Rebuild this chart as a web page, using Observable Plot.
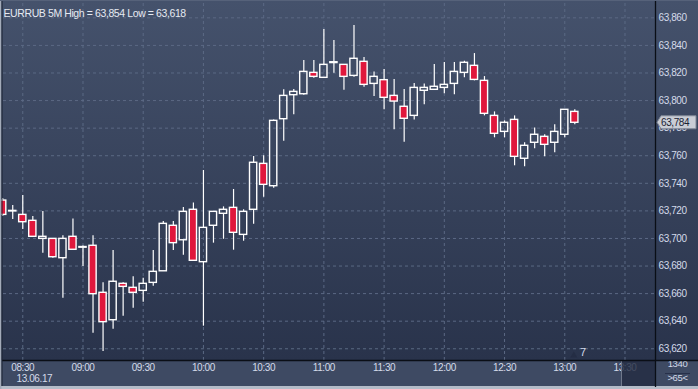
<!DOCTYPE html>
<html>
<head>
<meta charset="utf-8">
<script src="https://cdn.jsdelivr.net/npm/d3@7"></script>
<script src="https://cdn.jsdelivr.net/npm/@observablehq/plot@0.6"></script>
<style>
html, body { margin: 0; padding: 0; background: #3d4a63; }
#chart svg text { letter-spacing: -0.4px; }
</style>
</head>
<body>
<div id="chart"></div>
<script>
// ---- data (5-minute candles, EURRUB, 13.06.17) ----
const times = ["08:20","08:25","08:30","08:35","08:40","08:45","08:50","08:55",
  "09:00","09:05","09:10","09:15","09:20","09:25","09:30","09:35","09:40","09:45","09:50","09:55",
  "10:00","10:05","10:10","10:15","10:20","10:25","10:30","10:35","10:40","10:45","10:50","10:55",
  "11:00","11:05","11:10","11:15","11:20","11:25","11:30","11:35","11:40","11:45","11:50","11:55",
  "12:00","12:05","12:10","12:15","12:20","12:25","12:30","12:35","12:40","12:45","12:50","12:55",
  "13:00","13:05"];
const opens = [63.7275,63.7196,63.7171,63.7128,63.6997,63.6997,63.6857,63.7012,
  63.6933,63.6947,63.6606,63.6407,63.6671,63.6642,63.6620,63.6678,63.6762,63.7092,63.6987,63.7208,
  63.6828,63.7092,63.7179,63.7222,63.7026,63.7208,63.7541,63.7379,63.7865,63.8039,63.8046,63.8201,
  63.8165,63.8272,63.8259,63.8179,63.8281,63.8121,63.8148,63.8034,63.7955,63.7889,63.8071,63.8078,
  63.8092,63.8121,63.8201,63.8252,63.8143,63.7889,63.7773,63.7860,63.7578,63.7694,63.7737,63.7694,
  63.7752,63.7918];
const highs = [63.7290,63.7239,63.7311,63.7159,63.7195,63.6997,63.7019,63.7142,
  63.6945,63.7019,63.6678,63.6913,63.6678,63.6722,63.6712,63.6913,63.7123,63.7123,63.7224,63.7258,
  63.7493,63.7193,63.7229,63.7355,63.7208,63.7594,63.7599,63.7860,63.8078,63.8080,63.8290,63.8290,
  63.8515,63.8435,63.8259,63.8544,63.8312,63.8208,63.8225,63.8153,63.8080,63.8124,63.8121,63.8261,
  63.8276,63.8276,63.8285,63.8341,63.8174,63.7918,63.7853,63.7889,63.7694,63.7802,63.7752,63.7824,
  63.7933,63.7933];
const lows = [63.7160,63.7137,63.7065,63.7012,63.6893,63.6857,63.6567,63.6918,
  63.6796,63.6313,63.6180,63.6342,63.6436,63.6494,63.6538,63.6654,63.6762,63.6913,63.6878,63.6838,
  63.6364,63.6966,63.6994,63.6915,63.6980,63.7103,63.7299,63.7364,63.7705,63.7898,63.8039,63.8162,
  63.8165,63.8198,63.8075,63.8169,63.8097,63.8029,63.7933,63.7788,63.7698,63.7860,63.7969,63.8078,
  63.8049,63.8042,63.8165,63.8143,63.7889,63.7730,63.7730,63.7527,63.7520,63.7650,63.7592,63.7621,
  63.7730,63.7824];
const closes = [63.7171,63.7200,63.7118,63.7012,63.7012,63.6864,63.6997,63.6918,
  63.6938,63.6596,63.6393,63.6686,63.6649,63.6606,63.6671,63.6758,63.7106,63.6966,63.7193,63.6838,
  63.7077,63.7193,63.7208,63.7041,63.7193,63.7549,63.7389,63.7853,63.8034,63.8063,63.8208,63.8172,
  63.8259,63.8278,63.8172,63.8303,63.8114,63.8172,63.8020,63.7993,63.7868,63.8092,63.8092,63.8100,
  63.8114,63.8208,63.8274,63.8150,63.7904,63.7759,63.7839,63.7592,63.7672,63.7752,63.7679,63.7773,
  63.7933,63.7839];

const yTicks = [63.62,63.64,63.66,63.68,63.70,63.72,63.74,63.76,63.78,63.80,63.82,63.84,63.86];
const xTicks = ["08:30","09:00","09:30","10:00","10:30","11:00","11:30","12:00","12:30","13:00","13:30"];
const titleText = ["EURRUB 5M High = 63,854 Low = 63,618"];
const dateText = ["13.06.17"];
const cornerTop = ["1340"];
const cornerBottom = [">65<"];
const markerTime = ["13:05"];
const markerText = ["7"];

// ---- helpers ----
const toMin = s => +s.slice(0, 2) * 60 + +s.slice(3);
const pad = n => String(n).padStart(2, "0");
const fmtTime = m => pad(Math.floor(m / 60)) + ":" + pad(m % 60);
const fmtPrice = v => v.toFixed(3).replace(".", ",");

const candles = times.map((t, i) => ({
  t: toMin(t), o: opens[i], h: highs[i], l: lows[i], c: closes[i],
  top: Math.max(opens[i], closes[i]), bot: Math.min(opens[i], closes[i]),
  bull: closes[i] >= opens[i]
}));
const bulls = candles.filter(d => d.bull);
const bears = candles.filter(d => !d.bull);

const RED = "#e0173c";
const W = "#ffffff";
const TXT = "#d4dbea";
const half = 1.8;

const svg = Plot.plot({
  width: 698,
  height: 389,
  marginLeft: 3,
  marginRight: 43,
  marginTop: 3,
  marginBottom: 29,
  style: {
    background: "linear-gradient(to bottom, #45526c 0px, #29334b 360px, #3e4a63 360px, #3e4a63 386px, #b4bcc8 386px)",
    fontFamily: "'Liberation Sans', Arial, sans-serif",
    fontSize: "10px",
    color: TXT,
    overflow: "visible"
  },
  x: { type: "linear", domain: [500.4, 825.2], label: null },
  y: { type: "linear", domain: [63.6115, 63.8704], label: null },
  marks: [
    Plot.gridX(xTicks.map(toMin), { stroke: "#5b6984", strokeOpacity: 1, strokeDasharray: "3,3", strokeWidth: 1 }),
    Plot.gridY(yTicks, { stroke: "#5b6984", strokeOpacity: 1, strokeDasharray: "3,3", strokeWidth: 1 }),
    Plot.axisY(yTicks, { anchor: "right", label: null, tickSize: 0, tickPadding: 3, tickFormat: fmtPrice, fill: TXT, fontSize: 10 }),
    Plot.axisX(xTicks.map(toMin), { anchor: "bottom", label: null, tickSize: 0, tickPadding: 3, tickFormat: fmtTime, fill: TXT, fontSize: 10 }),
    // wicks (upper and lower parts, so hollow bodies stay empty)
    Plot.ruleX(candles, { x: "t", y1: "top", y2: "h", stroke: W, strokeWidth: 1.2 }),
    Plot.ruleX(candles, { x: "t", y1: "l", y2: "bot", stroke: W, strokeWidth: 1.2 }),
    // bodies
    Plot.rect(bulls, { x1: d => d.t - half, x2: d => d.t + half, y1: "o", y2: "c", fill: "none", stroke: W, strokeWidth: 1.4 }),
    Plot.rect(bears, { x1: d => d.t - half, x2: d => d.t + half, y1: "o", y2: "c", fill: RED, stroke: W, strokeWidth: 1.4 }),
    // texts
    Plot.text(titleText, { frameAnchor: "top-left", dx: 0, dy: 6, textAnchor: "start", fill: "#e6eaf2", fontSize: 10.5 }),
    Plot.text(dateText, { frameAnchor: "bottom-left", dx: 13, dy: 21, textAnchor: "start", fill: TXT, fontSize: 10 }),
    Plot.text(cornerTop, { frameAnchor: "bottom-right", dx: 22, dy: 6.5, textAnchor: "middle", fill: TXT, fontSize: 9.5 }),
    Plot.text(cornerBottom, { frameAnchor: "bottom-right", dx: 22, dy: 20, textAnchor: "middle", fill: TXT, fontSize: 9.5 }),
    Plot.dot(markerTime, { x: d => toMin(d), frameAnchor: "bottom", dy: -5, dx: -1, symbol: "triangle", r: 2.6, fill: "#242d44", stroke: "none" }),
    Plot.text(markerTime, { x: d => toMin(d), frameAnchor: "bottom", dy: -5, dx: 8, text: (d, i) => markerText[i], fill: TXT, fontSize: 11 })
  ]
});

// ---- panel decorations ----
const s = d3.select(svg);
const X = svg.scale("x"), Y = svg.scale("y");
const xr = X.range[1], yb = Y.range[0];

// dark overlay at right end of time axis
s.append("rect").attr("x", xr - 33).attr("y", yb + 1).attr("width", 33).attr("height", 25)
  .attr("fill", "#232c42").attr("opacity", 0.82);
s.append("line").attr("x1", xr - 33.5).attr("x2", xr - 33.5).attr("y1", yb + 1).attr("y2", yb + 26)
  .attr("stroke", "#6f788b").attr("stroke-width", 1);

// separator lines
s.append("line").attr("x1", xr + 0.5).attr("x2", xr + 0.5).attr("y1", 0).attr("y2", 387)
  .attr("stroke", "#0a0e16").attr("stroke-width", 1.3);
s.append("line").attr("x1", 2).attr("x2", 698).attr("y1", yb + 0.5).attr("y2", yb + 0.5)
  .attr("stroke", "#0a0e16").attr("stroke-width", 1.3);
// underline between corner texts
s.append("line").attr("x1", xr + 10).attr("x2", xr + 35).attr("y1", yb + 13.5).attr("y2", yb + 13.5)
  .attr("stroke", "#27304a").attr("stroke-width", 1);

// borders
s.append("rect").attr("x", 0).attr("y", 0).attr("width", 1.5).attr("height", 389).attr("fill", "#a3abb9");
s.append("line").attr("x1", 2).attr("x2", 2).attr("y1", 0).attr("y2", 386).attr("stroke", "#1b2232").attr("stroke-width", 1);
s.append("line").attr("x1", 0).attr("x2", 698).attr("y1", 0.5).attr("y2", 0.5).attr("stroke", "#56627a").attr("stroke-width", 1);

// current price tag
const last = closes[closes.length - 1];
const py = Y.apply(last);
const tx = xr + 2;
s.append("path")
  .attr("d", `M${tx},${py} L${tx + 4},${py - 6.5} L${tx + 39},${py - 6.5} L${tx + 39},${py + 6.5} L${tx + 4},${py + 6.5} Z`)
  .attr("fill", "#c9cdd5").attr("stroke", "#7f8796").attr("stroke-width", 1);
s.append("text").attr("x", tx + 4).attr("y", py).attr("dy", "0.35em")
  .attr("text-anchor", "start")
  .attr("fill", "#1a2234").attr("font-size", 10).text(fmtPrice(last));

document.getElementById("chart").appendChild(svg);
</script>
</body>
</html>
